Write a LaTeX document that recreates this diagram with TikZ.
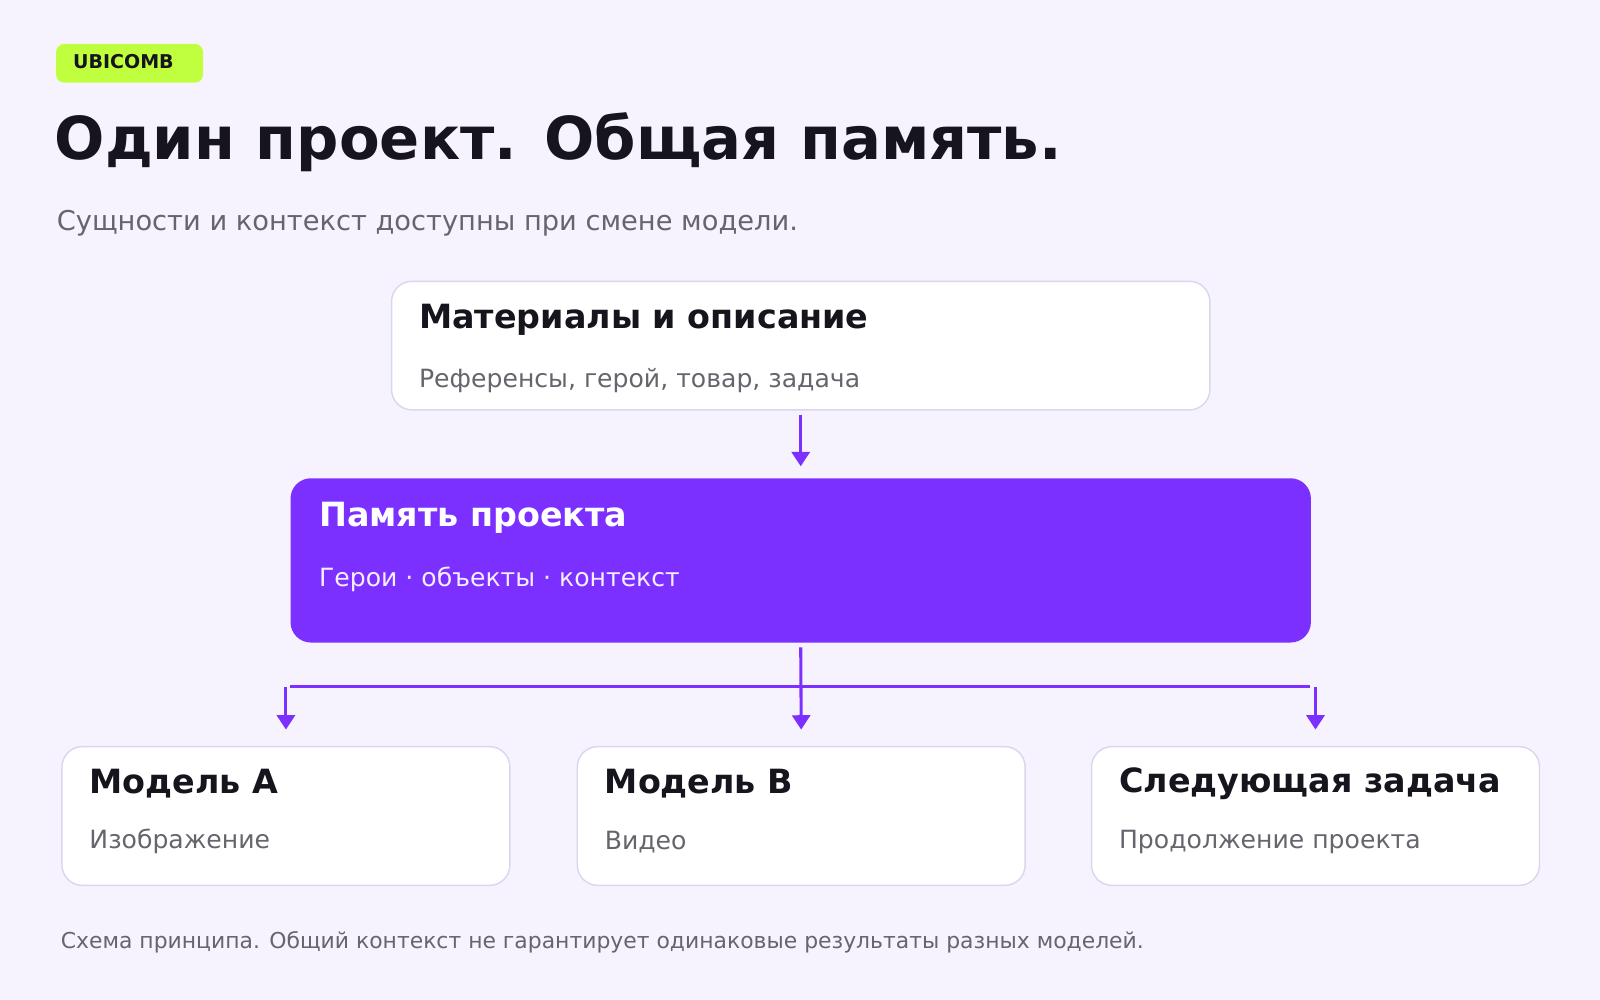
\documentclass[tikz,border=0pt]{standalone}
\usepackage{fontspec}
\setmainfont{DejaVu Sans}
\usetikzlibrary{arrows.meta, positioning}
\definecolor{bgc}{HTML}{F7F3FE}
\definecolor{lime}{HTML}{C0FF3E}
\definecolor{ink}{HTML}{16141C}
\definecolor{greyt}{HTML}{67646E}
\definecolor{violetc}{HTML}{7B30FF}
\definecolor{edgec}{HTML}{DCD5EE}
\tikzset{
  card/.style={draw=edgec, fill=white, rounded corners=20*0.01cm, anchor=north west, inner sep=0pt},
  head/.style={anchor=west, inner sep=0pt, font=\bfseries\fontsize{9.3pt}{11pt}\selectfont, text=ink},
  sub/.style={anchor=west, inner sep=0pt, font=\fontsize{7pt}{9pt}\selectfont, text=greyt},
  link/.style={violetc, line width=3*0.01cm, -{Triangle[length=4pt,width=5pt]}}
}
\begin{document}
\begin{tikzpicture}[x=0.01cm, y=-0.01cm]
\fill[bgc] (0,0) rectangle (1568,980);
\useasboundingbox (0,0) rectangle (1568,980);

% Header
\fill[lime, rounded corners=8*0.01cm] (55,43) rectangle (199,81);
\node[anchor=west, inner sep=0pt, font=\bfseries\fontsize{5.3pt}{6pt}\selectfont, text=ink] (badge) at (71,60) {UBICOMB};
\node[anchor=west, inner sep=0pt, font=\bfseries\fontsize{16.5pt}{19pt}\selectfont, text=ink] (title) at (53,139) {Один проект. Общая память.};
\node[sub, font=\fontsize{7.6pt}{9pt}\selectfont] (lead) at (55,219) {Сущности и контекст доступны при смене модели.};

% Cards
\node[card, minimum width=802*0.01cm, minimum height=126*0.01cm] (src) at (383,275) {};
\node[head] at (410,313) {Материалы и описание};
\node[sub] at (410,373) {Референсы, герой, товар, задача};

\node[card, draw=none, fill=violetc, minimum width=1000*0.01cm, minimum height=161*0.01cm] (mem) at (284,468) {};
\node[head, text=white] at (312,507) {Память проекта};
\node[sub, text=white!92!violetc] at (312,568) {Герои · объекты · контекст};

\node[card, minimum width=439*0.01cm, minimum height=136*0.01cm] (ma) at (60,731) {};
\node[head] at (87,768) {Модель A};
\node[sub] at (87,825) {Изображение};

\node[card, minimum width=439*0.01cm, minimum height=136*0.01cm] (mb) at (565,731) {};
\node[head] at (592,768) {Модель B};
\node[sub] at (592,825) {Видео};

\node[card, minimum width=439*0.01cm, minimum height=136*0.01cm] (mc) at (1069,731) {};
\node[head] at (1096,768) {Следующая задача};
\node[sub] at (1096,825) {Продолжение проекта};

% Connectors
\draw[link] ([yshift=-4*0.01cm]src.south) -- ([yshift=11*0.01cm]mem.north);
\draw[link] ([yshift=-4*0.01cm]mem.south) -- ([yshift=16*0.01cm]mb.north);
\coordinate (busl) at (284,673);
\coordinate (busr) at (1284,673);
\draw[violetc, line width=3*0.01cm] (busl) -- (busr);
\draw[link] (ma.north |- busl) -- ([yshift=16*0.01cm]ma.north);
\draw[link] (mc.north |- busr) -- ([yshift=16*0.01cm]mc.north);

% Footer
\node[sub, font=\fontsize{6.1pt}{8pt}\selectfont] (note) at (59,923) {Схема принципа. Общий контекст не гарантирует одинаковые результаты разных моделей.};
\end{tikzpicture}
\end{document}
